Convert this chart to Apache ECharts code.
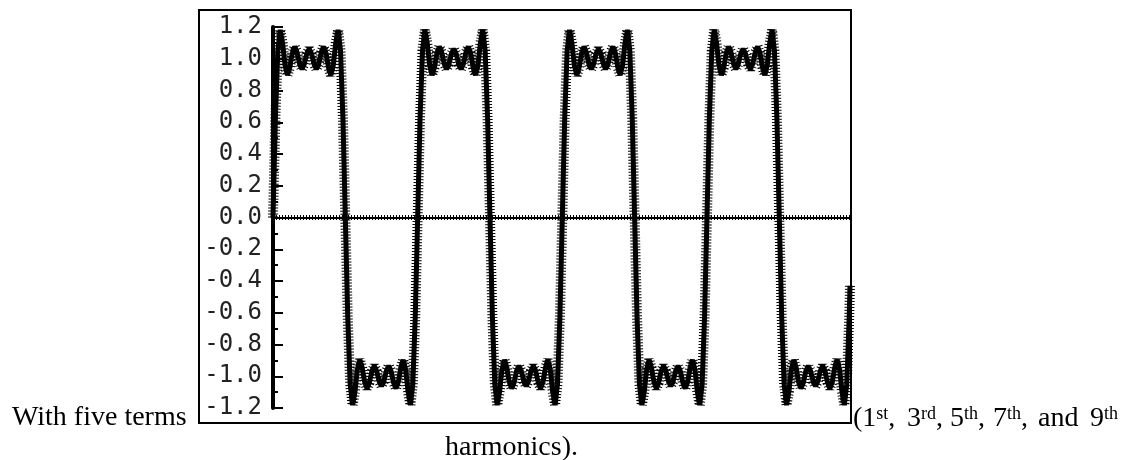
<!DOCTYPE html>
<html><head><meta charset="utf-8">
<script src="https://cdn.jsdelivr.net/npm/echarts@6/dist/echarts.min.js"></script>
<style>html,body{margin:0;padding:0;background:#fff}#c{width:1128px;height:460px}</style>
</head><body><div id="c"></div>
<script>
// sample angle (degrees) along the x axis
const tDeg = [
  0,6,12,18,24,30,36,42,48,54,60,66,72,78,84,90,96,102,108,114,120,126,132,138,144,150,156,162,168,174,
  180,186,192,198,204,210,216,222,228,234,240,246,252,258,264,270,276,282,288,294,300,306,312,318,324,330,336,342,348,354,
  360,366,372,378,384,390,396,402,408,414,420,426,432,438,444,450,456,462,468,474,480,486,492,498,504,510,516,522,528,534,
  540,546,552,558,564,570,576,582,588,594,600,606,612,618,624,630,636,642,648,654,660,666,672,678,684,690,696,702,708,714,
  720,726,732,738,744,750,756,762,768,774,780,786,792,798,804,810,816,822,828,834,840,846,852,858,864,870,876,882,888,894,
  900,906,912,918,924,930,936,942,948,954,960,966,972,978,984,990,996,1002,1008,1014,1020,1026,1032,1038,1044,1050,1056,1062,1068,1074,
  1080,1086,1092,1098,1104,1110,1116,1122,1128,1134,1140,1146,1152,1158,1164,1170,1176,1182,1188,1194,1200,1206,1212,1218,1224,1230,1236,1242,1248,1254,
  1260,1266,1272,1278,1284,1290,1296,1302,1308,1314,1320,1326,1332,1338,1344,1350,1356,1362,1368,1374,1380,1386,1392,1398,1404,1410,1416,1422,1428,1434,
  1436
];
// five-term sum, values
const yVals = [
  0,0.628,1.050,1.182,1.097,0.956,0.896,0.946,1.036,1.077,1.040,0.968,0.934,0.967,1.031,1.063,1.031,0.967,0.934,0.968,1.040,1.077,1.036,0.946,0.896,0.956,1.097,1.182,1.050,0.628,
  0,-0.628,-1.050,-1.182,-1.097,-0.956,-0.896,-0.946,-1.036,-1.077,-1.040,-0.968,-0.934,-0.967,-1.031,-1.063,-1.031,-0.967,-0.934,-0.968,-1.040,-1.077,-1.036,-0.946,-0.896,-0.956,-1.097,-1.182,-1.050,-0.628,
  0,0.628,1.050,1.182,1.097,0.956,0.896,0.946,1.036,1.077,1.040,0.968,0.934,0.967,1.031,1.063,1.031,0.967,0.934,0.968,1.040,1.077,1.036,0.946,0.896,0.956,1.097,1.182,1.050,0.628,
  0,-0.628,-1.050,-1.182,-1.097,-0.956,-0.896,-0.946,-1.036,-1.077,-1.040,-0.968,-0.934,-0.967,-1.031,-1.063,-1.031,-0.967,-0.934,-0.968,-1.040,-1.077,-1.036,-0.946,-0.896,-0.956,-1.097,-1.182,-1.050,-0.628,
  0,0.628,1.050,1.182,1.097,0.956,0.896,0.946,1.036,1.077,1.040,0.968,0.934,0.967,1.031,1.063,1.031,0.967,0.934,0.968,1.040,1.077,1.036,0.946,0.896,0.956,1.097,1.182,1.050,0.628,
  0,-0.628,-1.050,-1.182,-1.097,-0.956,-0.896,-0.946,-1.036,-1.077,-1.040,-0.968,-0.934,-0.967,-1.031,-1.063,-1.031,-0.967,-0.934,-0.968,-1.040,-1.077,-1.036,-0.946,-0.896,-0.956,-1.097,-1.182,-1.050,-0.628,
  0,0.628,1.050,1.182,1.097,0.956,0.896,0.946,1.036,1.077,1.040,0.968,0.934,0.967,1.031,1.063,1.031,0.967,0.934,0.968,1.040,1.077,1.036,0.946,0.896,0.956,1.097,1.182,1.050,0.628,
  0,-0.628,-1.050,-1.182,-1.097,-0.956,-0.896,-0.946,-1.036,-1.077,-1.040,-0.968,-0.934,-0.967,-1.031,-1.063,-1.031,-0.967,-0.934,-0.968,-1.040,-1.077,-1.036,-0.946,-0.896,-0.956,-1.097,-1.182,-1.050,-0.628,
  -0.43
];
const yMin = -1.2, yMax = 1.2, yStep = 0.2;
const xMax = 1436;
const captionLeft = 'With five terms';
const captionEnd = 'harmonics).';
const harmonicNums = ['(1', '3', '5', '7', 'and', '9'];
const harmonicSups = ['st', 'rd', 'th', 'th', '', 'th'];
const harmonicTails = [',', ',', ',', ',', '', ''];

const points = tDeg.map((t, i) => [t, yVals[i]]);
const groupX = [853, 907, 950, 993, 1038, 1090];
const serif = '"Liberation Serif", "Times New Roman", serif';

const graphics = [
  { type: 'rect', shape: { x: 199, y: 10, width: 652, height: 413 },
    style: { fill: 'none', stroke: '#000', lineWidth: 2 }, z: 0 },
  { type: 'text', x: 12, y: 418,
    style: { text: captionLeft, font: '28px ' + serif, fill: '#000', verticalAlign: 'middle' } },
  { type: 'text', x: 445, y: 448,
    style: { text: captionEnd, font: '28px ' + serif, fill: '#000', verticalAlign: 'middle' } }
];
harmonicNums.forEach((n, i) => {
  let txt = '{n|' + n + '}';
  if (harmonicSups[i]) txt += '{s|' + harmonicSups[i] + '}';
  if (harmonicTails[i]) txt += '{n|' + harmonicTails[i] + '}';
  graphics.push({
    type: 'text', x: groupX[i], y: 419,
    style: {
      text: txt, verticalAlign: 'middle', fill: '#000',
      rich: {
        n: { fontSize: 28, fontFamily: serif, fill: '#000' },
        s: { fontSize: 18, fontFamily: serif, fill: '#000', verticalAlign: 'top' }
      }
    }
  });
});

const chart = echarts.init(document.getElementById('c'));
chart.setOption({
  animation: false,
  backgroundColor: '#fff',
  grid: { left: 273, right: 278, top: 27, bottom: 52, containLabel: false },
  xAxis: {
    type: 'value', min: 0, max: xMax,
    axisLine: { show: true, onZero: true, lineStyle: { color: '#000', width: 2 } },
    axisTick: { show: false }, axisLabel: { show: false }, splitLine: { show: false }
  },
  yAxis: {
    type: 'value', min: yMin, max: yMax, interval: yStep,
    axisLine: { show: true, lineStyle: { color: '#000', width: 4 } },
    axisTick: { show: true, inside: true, length: 10, lineStyle: { color: '#000', width: 2 } },
    minorTick: { show: true, splitNumber: 2, length: 5, lineStyle: { color: '#000', width: 2 } },
    axisLabel: {
      color: '#222', fontFamily: '"DejaVu Sans Mono", monospace', fontSize: 24, margin: 11,
      formatter: v => v.toFixed(1)
    },
    splitLine: { show: false }
  },
  graphic: graphics,
  series: [
    {
      type: 'line', data: points, showSymbol: false, silent: true, z: 2,
      lineStyle: { color: '#000', width: 10, type: [1, 2] },
      markLine: {
        silent: true, symbol: 'none', label: { show: false },
        lineStyle: { color: '#000', width: 5, type: [1, 2] },
        data: [{ yAxis: 0 }]
      }
    },
    {
      type: 'line', data: points, showSymbol: false, silent: true, z: 3,
      lineStyle: { color: '#000', width: 5 }
    }
  ]
});
</script>
</body></html>
